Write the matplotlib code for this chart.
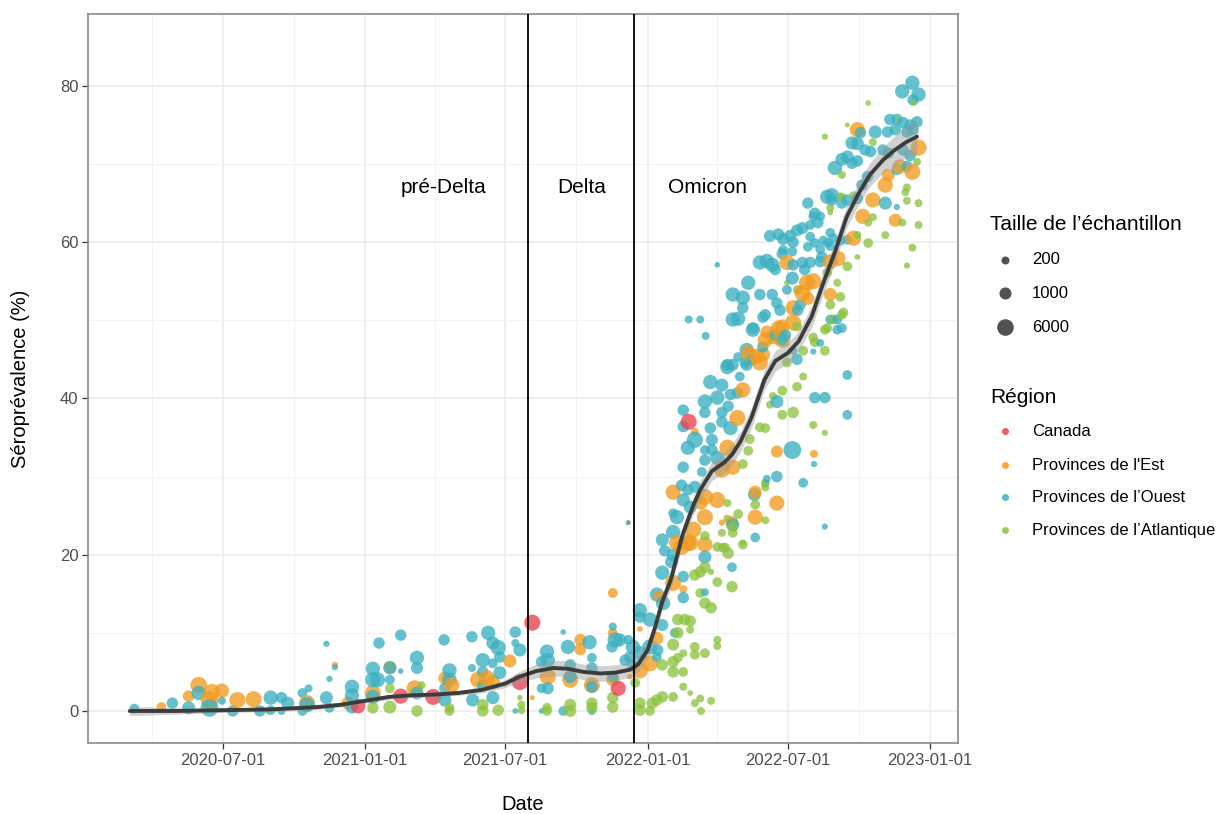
import matplotlib
matplotlib.use("Agg")
import matplotlib.pyplot as plt
import matplotlib.dates as mdates
from matplotlib.lines import Line2D
import numpy as np
from datetime import datetime

plt.rcParams['font.family'] = ['Liberation Sans', 'DejaVu Sans']

# ---------------- data: (date, seroprevalence %, sample size) ----------------
canada = [("2020-12-23", 0.6, 2500), ("2021-02-16", 1.9, 3500), ("2021-03-30", 1.8, 5000),
          ("2021-07-20", 3.7, 5000), ("2021-08-05", 11.3, 5000), ("2021-11-24", 2.9, 3500),
          ("2022-02-23", 37.0, 5000)]

est = [("2020-04-13", 0.5, 400), ("2020-05-18", 1.9, 800), ("2020-05-31", 3.3, 6000),
       ("2020-06-17", 2.4, 6000), ("2020-06-14", 1.4, 10000), ("2020-06-30", 2.6, 2500),
       ("2020-07-20", 1.4, 5000), ("2020-08-10", 1.5, 5000), ("2020-10-18", 1.0, 5000),
       ("2020-11-23", 5.9, 100), ("2020-12-10", 1.0, 1500), ("2021-01-11", 2.3, 5000),
       ("2021-02-02", 5.6, 1500), ("2021-03-06", 2.9, 5000), ("2021-04-14", 4.2, 1500),
       ("2021-04-23", 3.3, 3500), ("2021-05-27", 4.0, 5000), ("2021-06-07", 4.2, 5000),
       ("2021-06-15", 3.7, 2500), ("2021-07-07", 6.4, 1500), ("2021-08-05", 1.7, 60),
       ("2021-08-25", 4.4, 5000), ("2021-09-23", 4.0, 5000), ("2021-10-06", 9.1, 1000),
       ("2021-10-06", 7.9, 1000), ("2021-10-21", 3.3, 5000), ("2021-11-17", 15.1, 400),
       ("2021-11-17", 10.0, 400), ("2021-11-17", 4.0, 1500), ("2021-12-09", 4.4, 80),
       ("2021-12-07", 24.1, 60), ("2021-12-22", 10.5, 80), ("2021-12-22", 5.2, 5000),
       ("2022-01-04", 6.1, 5000), ("2022-01-13", 9.3, 1500), ("2022-01-17", 14.6, 1500),
       ("2022-02-03", 16.4, 5000), ("2022-02-16", 15.6, 200), ("2022-02-14", 21.0, 5000),
       ("2022-02-25", 21.5, 5000), ("2022-02-08", 21.5, 5000), ("2022-02-03", 28.0, 3500),
       ("2022-02-22", 21.6, 5000), ("2022-03-01", 23.2, 5000), ("2022-03-03", 35.7, 200),
       ("2022-03-16", 21.3, 3500), ("2022-03-16", 27.4, 5000), ("2022-04-01", 27.0, 5000),
       ("2022-03-16", 24.8, 5000), ("2022-03-11", 26.6, 1500), ("2022-04-07", 24.1, 100),
       ("2022-04-20", 24.1, 1500), ("2022-04-14", 33.7, 5000), ("2022-04-07", 30.9, 5000),
       ("2022-04-21", 31.2, 3500), ("2022-04-27", 37.5, 5000), ("2022-05-04", 41.1, 3500),
       ("2022-05-20", 28.0, 1500), ("2022-05-20", 24.8, 3500), ("2022-06-17", 26.6, 3500),
       ("2022-06-17", 33.2, 1000), ("2022-08-04", 32.9, 200), ("2022-05-11", 45.8, 3500),
       ("2022-05-26", 44.6, 5000), ("2022-06-02", 47.5, 3500), ("2022-06-04", 48.5, 1500),
       ("2022-06-24", 47.5, 5000), ("2022-06-24", 49.2, 2500), ("2022-06-30", 57.4, 3500),
       ("2022-07-08", 51.6, 3500), ("2022-07-08", 49.7, 5000), ("2022-07-20", 53.5, 5000),
       ("2022-07-26", 54.8, 5000), ("2022-08-03", 55.0, 5000), ("2022-07-27", 52.8, 1500),
       ("2022-08-25", 53.3, 1500), ("2022-08-25", 57.5, 3500), ("2022-09-04", 57.9, 3500),
       ("2022-06-12", 47.9, 3500), ("2022-06-19", 49.0, 3500), ("2022-05-22", 45.4, 3500),
       ("2022-05-30", 45.6, 2500), ("2022-09-24", 60.5, 3500), ("2022-10-06", 63.3, 3500),
       ("2022-10-19", 65.4, 3500), ("2022-11-04", 67.3, 3500), ("2022-11-08", 68.6, 1500),
       ("2022-11-23", 69.7, 2500), ("2022-12-09", 69.0, 5000), ("2022-12-17", 72.1, 5000),
       ("2022-11-17", 62.8, 1500), ("2022-09-29", 74.4, 3500)]

ouest = [("2020-03-09", 0.3, 400), ("2020-04-27", 1.0, 800), ("2020-05-18", 0.4, 1500),
         ("2020-05-31", 2.3, 2500), ("2020-06-14", 0.4, 10000), ("2020-06-30", 1.3, 200),
         ("2020-07-14", 0.0, 800), ("2020-08-18", 0.0, 800), ("2020-09-01", 1.7, 2500),
         ("2020-09-01", 0.1, 400), ("2020-09-15", 1.7, 800), ("2020-09-23", 1.0, 1500),
         ("2020-09-15", 0.0, 200), ("2020-10-12", 2.3, 400), ("2020-10-20", 2.9, 200),
         ("2020-10-18", 0.8, 3500), ("2020-10-12", 0.0, 400), ("2020-11-12", 8.6, 100),
         ("2020-11-23", 5.6, 100), ("2020-11-16", 4.1, 100), ("2020-11-12", 1.7, 1500),
         ("2020-11-16", 0.4, 400), ("2020-12-15", 3.1, 2500), ("2020-12-15", 2.0, 2500),
         ("2020-12-15", 0.5, 1500), ("2021-01-19", 8.7, 800), ("2021-02-16", 9.7, 800),
         ("2021-01-11", 5.4, 2500), ("2021-02-02", 5.5, 1500), ("2021-02-16", 5.1, 80),
         ("2021-01-11", 4.0, 3500), ("2021-01-17", 4.0, 3500), ("2021-02-02", 4.0, 400),
         ("2021-01-11", 1.8, 2500), ("2021-03-09", 6.8, 2500), ("2021-03-09", 5.5, 1000),
         ("2021-03-09", 2.3, 1500), ("2021-04-13", 9.1, 800), ("2021-04-20", 5.2, 2500),
         ("2021-04-20", 4.0, 2500), ("2021-04-14", 2.9, 800), ("2021-04-14", 1.4, 1500),
         ("2021-05-19", 9.5, 800), ("2021-05-19", 5.5, 200), ("2021-06-02", 6.5, 2500),
         ("2021-06-02", 5.0, 800), ("2021-06-02", 3.3, 800), ("2021-05-20", 1.4, 1500),
         ("2021-06-09", 10.0, 2500), ("2021-06-15", 8.7, 1500), ("2021-06-22", 8.1, 3500),
         ("2021-06-24", 6.9, 800), ("2021-06-15", 6.1, 400), ("2021-06-24", 4.9, 1500),
         ("2021-06-15", 1.7, 1500), ("2021-07-14", 10.1, 800), ("2021-07-14", 8.7, 200),
         ("2021-07-20", 7.8, 1500), ("2021-07-14", 0.0, 80),
         ("2021-09-14", 10.1, 80), ("2021-09-20", 8.2, 2500), ("2021-10-18", 8.8, 2500),
         ("2021-10-21", 6.8, 400), ("2021-11-17", 10.8, 200), ("2021-11-20", 9.1, 3500),
         ("2021-11-26", 9.1, 1500), ("2021-11-16", 8.2, 800), ("2021-08-24", 7.6, 2500),
         ("2021-08-25", 6.5, 2500), ("2021-08-17", 6.3, 800), ("2021-09-23", 5.9, 800),
         ("2021-10-21", 5.5, 800), ("2021-08-25", 2.9, 1000), ("2021-09-23", 4.4, 1500),
         ("2021-10-21", 3.1, 1000), ("2021-11-17", 4.4, 800), ("2021-08-17", 2.9, 400),
         ("2021-08-17", 0.0, 80), ("2021-09-14", 0.0, 400), ("2021-10-21", 0.0, 200),
         ("2021-12-09", 6.9, 800), ("2021-12-03", 6.5, 800),
         ("2021-12-07", 24.1, 60), ("2021-12-22", 12.9, 2500), ("2021-12-22", 12.0, 800),
         ("2022-01-04", 11.7, 2500), ("2021-12-07", 9.1, 400), ("2021-12-13", 8.2, 2500),
         ("2021-12-22", 7.4, 2500), ("2022-01-04", 8.2, 3500), ("2022-01-13", 6.9, 400),
         ("2021-12-13", 5.9, 800), ("2022-01-14", 7.8, 800), ("2022-01-20", 11.0, 1000),
         ("2022-02-05", 10.0, 400), ("2022-01-20", 17.7, 2500), ("2022-02-16", 17.2, 800),
         ("2022-02-16", 14.5, 800), ("2022-01-13", 14.9, 2500), ("2022-01-21", 13.8, 2500),
         ("2022-02-01", 19.1, 1500), ("2022-02-03", 20.0, 1500), ("2022-01-23", 20.5, 800),
         ("2022-03-16", 19.7, 1500), ("2022-03-16", 15.2, 200), ("2022-04-20", 18.4, 400),
         ("2022-01-20", 21.9, 1500), ("2022-02-03", 22.9, 2500), ("2022-02-08", 24.8, 2500),
         ("2022-02-03", 25.3, 400), ("2022-02-16", 27.0, 1500), ("2022-02-25", 26.1, 1500),
         ("2022-02-14", 28.9, 800), ("2022-02-22", 28.3, 800), ("2022-03-03", 28.7, 1000),
         ("2022-02-16", 31.2, 800), ("2022-03-12", 30.6, 400), ("2022-03-16", 32.1, 800),
         ("2022-04-01", 32.4, 2500), ("2022-02-22", 33.7, 2500), ("2022-03-16", 33.4, 400),
         ("2022-03-25", 33.4, 800), ("2022-03-03", 34.7, 5000), ("2022-03-25", 34.7, 1000),
         ("2022-02-16", 36.4, 800), ("2022-03-23", 36.2, 800), ("2022-04-18", 36.2, 2500),
         ("2022-02-16", 38.5, 800), ("2022-03-16", 38.2, 800), ("2022-04-07", 38.2, 800),
         ("2022-04-15", 39.0, 800), ("2022-04-07", 37.0, 800), ("2022-03-16", 39.6, 2500),
         ("2022-04-01", 40.1, 2500), ("2022-04-18", 40.5, 800), ("2022-03-23", 42.1, 2500),
         ("2022-04-07", 41.7, 1500), ("2022-04-14", 44.3, 1000), ("2022-04-21", 44.3, 1000),
         ("2022-04-30", 42.8, 400), ("2022-04-27", 40.7, 800), ("2022-05-09", 44.3, 1000),
         ("2022-04-14", 44.0, 2500), ("2022-04-28", 45.3, 400), ("2022-05-09", 46.2, 2500),
         ("2022-05-07", 44.6, 800), ("2022-05-17", 45.0, 800), ("2022-05-30", 46.6, 800),
         ("2022-06-15", 48.1, 800), ("2022-05-17", 48.8, 2500), ("2022-04-21", 50.1, 2500),
         ("2022-04-28", 50.2, 2500), ("2022-06-02", 50.7, 800), ("2022-05-04", 51.6, 800),
         ("2022-04-21", 53.3, 2500), ("2022-05-04", 52.9, 2500), ("2022-05-11", 54.8, 2500),
         ("2022-05-26", 53.3, 800), ("2022-06-11", 53.3, 800), ("2022-06-17", 52.2, 800),
         ("2022-06-21", 51.3, 800), ("2022-06-30", 53.9, 400), ("2022-07-07", 55.4, 1500),
         ("2022-07-17", 52.0, 800), ("2022-07-14", 51.3, 800), ("2022-05-26", 57.4, 2500),
         ("2022-06-04", 57.6, 2500), ("2022-06-11", 57.1, 2500), ("2022-06-15", 56.5, 800),
         ("2022-06-24", 58.5, 800), ("2022-07-08", 57.1, 800), ("2022-07-20", 57.4, 800),
         ("2022-07-30", 57.4, 800), ("2022-07-23", 56.5, 800), ("2022-08-12", 57.5, 800),
         ("2022-08-14", 58.1, 800), ("2022-04-01", 57.1, 80), ("2022-02-23", 50.1, 200),
         ("2022-03-10", 50.1, 200), ("2022-03-17", 48.0, 200), ("2022-06-08", 60.8, 1000),
         ("2022-06-19", 61.0, 1000), ("2022-06-25", 60.4, 1000), ("2022-07-04", 60.8, 1000),
         ("2022-07-13", 61.5, 1000), ("2022-07-20", 61.8, 1000), ("2022-07-08", 60.0, 800),
         ("2022-07-30", 60.7, 400), ("2022-08-05", 59.9, 400), ("2022-08-16", 60.2, 400),
         ("2022-08-25", 61.2, 400), ("2022-09-07", 60.2, 400), ("2022-06-25", 59.0, 400),
         ("2022-07-07", 58.8, 400), ("2022-07-27", 59.4, 400), ("2022-08-12", 59.1, 400),
         ("2022-08-25", 59.5, 400), ("2022-07-27", 65.0, 800), ("2022-08-21", 65.8, 2500),
         ("2022-08-27", 66.0, 2500), ("2022-09-16", 65.4, 800), ("2022-08-12", 63.3, 400),
         ("2022-08-03", 63.3, 400), ("2022-07-30", 62.2, 400), ("2022-08-09", 62.5, 800),
         ("2022-08-05", 63.7, 800), ("2022-08-27", 65.4, 800), ("2022-09-09", 65.0, 800),
         ("2022-09-09", 70.6, 1500), ("2022-09-16", 70.9, 1500), ("2022-08-31", 69.5, 2500),
         ("2022-09-22", 70.1, 800), ("2022-09-29", 70.4, 800), ("2022-09-22", 72.7, 1500),
         ("2022-09-29", 72.6, 1500), ("2022-10-09", 71.8, 800), ("2022-10-16", 71.6, 800),
         ("2022-10-03", 74.0, 800), ("2022-10-22", 74.1, 1500), ("2022-11-10", 75.7, 800),
         ("2022-11-19", 75.7, 800), ("2022-11-27", 75.3, 800), ("2022-12-06", 75.0, 800),
         ("2022-12-15", 75.4, 800), ("2022-11-07", 74.1, 800), ("2022-11-17", 74.4, 800),
         ("2022-12-02", 74.1, 800), ("2022-12-10", 74.4, 800), ("2022-11-01", 71.8, 800),
         ("2022-11-08", 71.4, 800), ("2022-11-27", 71.8, 800), ("2022-12-06", 71.1, 800),
         ("2022-11-19", 69.3, 800), ("2022-12-02", 69.7, 800), ("2022-12-09", 80.4, 2500),
         ("2022-11-26", 79.3, 2500), ("2022-12-17", 78.9, 2500), ("2022-12-10", 78.2, 800),
         ("2022-11-04", 65.0, 1500), ("2022-11-19", 64.5, 100), ("2022-10-05", 67.3, 800),
         ("2022-10-12", 68.4, 800), ("2022-09-29", 65.6, 800), ("2022-08-22", 59.9, 400),
         ("2022-08-29", 60.5, 400), ("2022-09-16", 60.3, 400), ("2022-05-17", 49.0, 800),
         ("2022-05-30", 50.4, 800), ("2022-06-24", 47.5, 800), ("2022-06-28", 48.1, 800),
         ("2022-09-03", 48.8, 400), ("2022-09-09", 49.0, 400), ("2022-09-03", 50.1, 400),
         ("2022-08-25", 50.1, 400), ("2022-09-16", 43.0, 400), ("2022-09-16", 37.9, 400),
         ("2022-08-05", 40.1, 800), ("2022-08-18", 40.1, 800), ("2022-06-17", 39.6, 1500),
         ("2022-07-07", 33.4, 10000), ("2022-08-04", 31.6, 100), ("2022-07-21", 29.2, 400),
         ("2022-06-17", 30.0, 800), ("2022-08-18", 23.6, 100), ("2022-05-19", 27.7, 1500),
         ("2022-06-02", 29.1, 200), ("2022-06-04", 29.7, 200), ("2022-05-20", 22.2, 400),
         ("2022-04-21", 23.8, 1500), ("2022-07-13", 45.0, 800), ("2022-07-08", 46.1, 200),
         ("2022-08-03", 46.0, 100), ("2022-08-12", 47.1, 200)]

atlantique = [("2020-08-28", 0.0, 80), ("2021-01-11", 0.4, 800), ("2021-02-02", 2.9, 400),
              ("2021-02-02", 0.5, 1500), ("2021-03-15", 3.3, 200), ("2021-03-09", 0.0, 800),
              ("2021-04-20", 0.4, 400), ("2021-04-20", 0.0, 400), ("2021-06-02", 0.8, 800),
              ("2021-06-02", 0.0, 800), ("2021-06-22", 0.1, 800), ("2021-07-20", 1.7, 80),
              ("2021-07-22", 0.8, 200), ("2021-07-22", 0.1, 200), ("2021-08-24", 0.4, 400),
              ("2021-08-24", 0.0, 400), ("2021-09-23", 0.8, 1000), ("2021-09-23", 0.0, 1000),
              ("2021-10-21", 1.0, 800), ("2021-10-21", 0.4, 800), ("2021-11-17", 1.7, 800),
              ("2021-11-17", 0.5, 800), ("2021-12-16", 3.6, 400), ("2021-12-22", 1.0, 800),
              ("2021-12-22", 0.1, 800), ("2022-01-07", 1.0, 800), ("2022-01-13", 1.4, 800),
              ("2022-01-20", 1.8, 800), ("2022-01-04", 0.0, 400), ("2022-02-03", 1.8, 400),
              ("2022-02-16", 3.1, 200), ("2022-02-25", 2.3, 80), ("2022-03-10", 1.6, 200),
              ("2022-03-03", 1.0, 200), ("2022-03-11", 0.0, 200), ("2022-03-24", 1.3, 200),
              ("2022-01-20", 5.9, 800), ("2022-02-03", 6.3, 800), ("2022-02-03", 5.0, 800),
              ("2022-02-09", 6.8, 400), ("2022-02-16", 5.0, 400), ("2022-02-03", 8.5, 1000),
              ("2022-02-16", 7.4, 200), ("2022-03-03", 8.2, 400), ("2022-03-03", 7.2, 400),
              ("2022-03-16", 7.4, 400), ("2022-02-09", 10.0, 800), ("2022-02-09", 11.7, 800),
              ("2022-02-18", 11.7, 800), ("2022-02-25", 11.5, 800), ("2022-02-25", 10.4, 200),
              ("2022-04-01", 9.1, 200), ("2022-04-01", 8.3, 200), ("2022-03-03", 17.4, 800),
              ("2022-03-10", 17.8, 800), ("2022-03-16", 18.4, 800), ("2022-03-24", 17.8, 100),
              ("2022-03-10", 15.1, 400), ("2022-03-16", 13.8, 800), ("2022-03-24", 13.2, 800),
              ("2022-04-01", 16.5, 400), ("2022-04-20", 15.9, 800), ("2022-04-01", 21.0, 400),
              ("2022-04-08", 20.9, 400), ("2022-04-11", 20.9, 400), ("2022-05-04", 21.3, 400),
              ("2022-04-15", 20.2, 800), ("2022-03-16", 22.4, 400), ("2022-04-14", 26.6, 200),
              ("2022-04-28", 25.2, 400), ("2022-04-14", 24.6, 200), ("2022-04-07", 22.8, 200),
              ("2022-04-21", 22.8, 400), ("2022-04-21", 23.6, 400), ("2022-05-04", 21.5, 100),
              ("2022-05-20", 26.4, 400), ("2022-06-02", 24.4, 200), ("2022-06-02", 29.2, 200),
              ("2022-06-02", 28.6, 200), ("2022-05-04", 31.6, 400), ("2022-05-11", 33.3, 400),
              ("2022-05-13", 34.8, 400), ("2022-05-26", 36.3, 400), ("2022-06-02", 36.2, 400),
              ("2022-06-08", 39.2, 200), ("2022-06-12", 40.3, 200), ("2022-06-24", 41.0, 400),
              ("2022-06-24", 37.9, 400), ("2022-07-08", 38.2, 800), ("2022-07-13", 41.5, 400),
              ("2022-07-21", 42.8, 200), ("2022-08-03", 36.6, 200), ("2022-08-18", 35.6, 100),
              ("2022-06-30", 44.6, 400), ("2022-07-21", 46.1, 400), ("2022-08-03", 47.8, 400),
              ("2022-08-18", 48.8, 400), ("2022-08-18", 46.1, 400), ("2022-07-13", 49.2, 400),
              ("2022-08-05", 47.2, 400), ("2022-08-21", 49.0, 400), ("2022-08-29", 50.1, 400),
              ("2022-09-09", 50.7, 400), ("2022-08-25", 52.0, 400), ("2022-09-07", 53.0, 400),
              ("2022-09-11", 51.0, 400), ("2022-09-03", 54.8, 200), ("2022-07-14", 53.9, 400),
              ("2022-06-30", 54.8, 80), ("2022-09-16", 56.9, 400), ("2022-08-21", 56.1, 400),
              ("2022-09-07", 66.0, 80), ("2022-08-25", 63.8, 80), ("2022-10-13", 77.8, 80),
              ("2022-09-16", 75.0, 60), ("2022-08-18", 73.5, 100), ("2022-10-19", 72.8, 200),
              ("2022-11-21", 75.7, 60), ("2022-12-10", 77.9, 80), ("2022-12-15", 70.3, 200),
              ("2022-12-02", 67.0, 200), ("2022-11-30", 66.4, 200), ("2022-12-17", 65.0, 200),
              ("2022-12-02", 65.3, 200), ("2022-10-19", 63.2, 200), ("2022-10-13", 62.5, 200),
              ("2022-11-26", 62.5, 200), ("2022-12-17", 62.2, 200), ("2022-11-04", 60.9, 200),
              ("2022-12-09", 59.3, 200), ("2022-12-02", 57.0, 100), ("2022-10-13", 59.9, 400),
              ("2022-09-29", 58.1, 80), ("2022-09-29", 60.9, 200), ("2022-09-24", 66.0, 200),
              ("2022-09-09", 65.8, 200), ("2022-08-25", 64.4, 200), ("2022-09-09", 68.6, 200)]

# smoothed trend (loess)
curve_dates = ["2020-03-03", "2020-05-01", "2020-07-01", "2020-09-01", "2020-11-01", "2020-12-01",
               "2021-01-01", "2021-02-01", "2021-03-01", "2021-04-01", "2021-05-01", "2021-06-01",
               "2021-07-01", "2021-07-20", "2021-08-10", "2021-09-01", "2021-09-20", "2021-10-10",
               "2021-11-01", "2021-11-20", "2021-12-10", "2021-12-20", "2022-01-01", "2022-01-10",
               "2022-01-20", "2022-01-31", "2022-02-15", "2022-03-01", "2022-03-10", "2022-03-25",
               "2022-04-10", "2022-04-20", "2022-05-01", "2022-05-15", "2022-06-01", "2022-06-15",
               "2022-07-01", "2022-07-15", "2022-08-01", "2022-08-15", "2022-09-01", "2022-09-15",
               "2022-10-01", "2022-10-15", "2022-11-01", "2022-11-15", "2022-12-01", "2022-12-15"]
curve_values = [0.0, 0.0, 0.1, 0.2, 0.5, 0.8, 1.3, 1.8, 2.0, 2.1, 2.3, 2.7,
                3.5, 4.4, 5.1, 5.5, 5.4, 5.0, 4.8, 4.9, 5.3, 6.0, 7.8, 10.5,
                14.0, 16.8, 22.5, 26.3, 28.3, 30.7, 31.8, 32.8, 34.5, 37.5, 42.4, 44.8,
                45.8, 47.3, 50.5, 54.5, 59.0, 63.2, 66.3, 68.6, 70.5, 71.7, 72.8, 73.5]
curve_halfwidth = [0.6, 0.4, 0.3, 0.3, 0.3, 0.3, 0.3, 0.3, 0.3, 0.3, 0.3, 0.4,
                   0.5, 0.7, 0.9, 1.0, 1.0, 1.0, 1.0, 1.0, 1.0, 1.0, 1.0, 1.0,
                   1.0, 1.1, 1.1, 1.1, 1.2, 1.2, 1.3, 1.3, 1.3, 1.3, 1.3, 1.3,
                   1.3, 1.3, 1.4, 1.4, 1.4, 1.4, 1.4, 1.5, 1.6, 1.8, 2.0, 2.4]

period_breaks = ["2021-07-30", "2021-12-14"]
period_labels = ["pré-Delta", "Delta", "Omicron"]
period_label_dates = ["2021-04-13", "2021-10-08", "2022-03-20"]
period_label_y = 67.0

x_ticks = ["2020-07-01", "2021-01-01", "2021-07-01", "2022-01-01", "2022-07-01", "2023-01-01"]
x_minor = ["2020-04-01", "2020-10-01", "2021-04-01", "2021-10-01", "2022-04-01", "2022-10-01"]
y_ticks = [0, 20, 40, 60, 80]
y_minor = [10, 30, 50, 70]

region_names = ["Canada", "Provinces de l'Est", "Provinces de l’Ouest", "Provinces de l’Atlantique"]
region_colors = ["#E8424F", "#F39B1E", "#3BB0C1", "#8DC33F"]
size_breaks = [200, 1000, 6000]

# ---------------- helpers ----------------
def dnum(s):
    return mdates.date2num(datetime.strptime(s, "%Y-%m-%d"))

def diam_px(n):
    return 8.0 + 5.8 * np.log10(np.asarray(n, dtype=float) / 200.0)

def area_pt(n):
    return (0.72 * diam_px(n)) ** 2

# ---------------- figure ----------------
W, H = 1220, 814
fig = plt.figure(figsize=(W / 100, H / 100), dpi=100)
ax = fig.add_axes([88 / W, 1 - 743 / H, 870 / W, 729 / H])

ax.set_xlim(dnum("2020-01-09"), dnum("2023-02-06"))
ax.set_ylim(-4.1, 89.2)

# points (all regions mixed, in date order)
xs, ys, ss, cs = [], [], [], []
for data, col in zip([canada, est, ouest, atlantique], region_colors):
    for d, v, n in data:
        xs.append(dnum(d)); ys.append(v); ss.append(area_pt(n)); cs.append(col)
order = np.argsort(np.array(xs), kind="stable")
xs = np.array(xs)[order]; ys = np.array(ys)[order]
ss = np.array(ss)[order]; cs = [cs[i] for i in order]
ax.scatter(xs, ys, s=ss, c=cs, alpha=0.78, linewidths=0, zorder=2)

# trend with confidence ribbon
cx = np.array([dnum(d) for d in curve_dates])
cv = np.array(curve_values)
hw = np.array(curve_halfwidth)
ax.fill_between(cx, cv - hw, cv + hw, color="#9A9A9A", alpha=0.45, lw=0, zorder=3)
ax.plot(cx, cv, color="#3C3C3C", lw=2.8, zorder=4, solid_capstyle="round", solid_joinstyle="round")

# period separators and labels
for d in period_breaks:
    ax.axvline(dnum(d), color="black", lw=1.3, zorder=5)
for lab, d in zip(period_labels, period_label_dates):
    ax.text(dnum(d), period_label_y, lab, ha="center", va="center", fontsize=15, color="black", zorder=6)

# axes styling (theme_bw-like)
ax.set_xticks([dnum(d) for d in x_ticks])
ax.set_xticklabels(x_ticks)
ax.set_xticks([dnum(d) for d in x_minor], minor=True)
ax.set_yticks(y_ticks)
ax.set_yticks(y_minor, minor=True)
ax.grid(which="major", color="#EBEBEB", lw=1.1)
ax.grid(which="minor", color="#F3F3F3", lw=0.7)
ax.set_axisbelow(True)
ax.tick_params(which="major", length=4, width=0.9, color="#333333", labelsize=12,
               labelcolor="#4D4D4D", pad=3)
ax.tick_params(which="minor", length=0)
for sp in ax.spines.values():
    sp.set_color("#8A8A8A")
    sp.set_linewidth(1.2)

ax.set_xlabel("Date", fontsize=14.5, color="black")
ax.set_ylabel("Séroprévalence (%)", fontsize=14.5, color="black")
ax.xaxis.set_label_coords(0.5, -0.072)
ax.yaxis.set_label_coords(-0.067, 0.5)

# ---------------- legends (drawn in figure coordinates) ----------------
def fx(px):
    return px / W

def fy(py):
    return 1 - py / H

fig.text(fx(990), fy(225), "Taille de l’échantillon", fontsize=15, ha="left", va="center")
for n, py in zip(size_breaks, [260, 293, 327]):
    fig.add_artist(Line2D([fx(1005)], [fy(py)], transform=fig.transFigure, marker="o",
                          markersize=0.72 * float(diam_px(n)), color="#333333", alpha=0.85,
                          markeredgewidth=0, linestyle="none"))
    fig.text(fx(1032), fy(py), str(n), fontsize=12, ha="left", va="center")

fig.text(fx(990), fy(397), "Région", fontsize=15, ha="left", va="center")
for name, col, py in zip(region_names, region_colors, [431, 465, 497, 530]):
    fig.add_artist(Line2D([fx(1005)], [fy(py)], transform=fig.transFigure, marker="o",
                          markersize=0.72 * 7.0, color=col, alpha=0.85,
                          markeredgewidth=0, linestyle="none"))
    fig.text(fx(1032), fy(py), name, fontsize=12, ha="left", va="center")

fig.savefig("out.png", dpi=100)
